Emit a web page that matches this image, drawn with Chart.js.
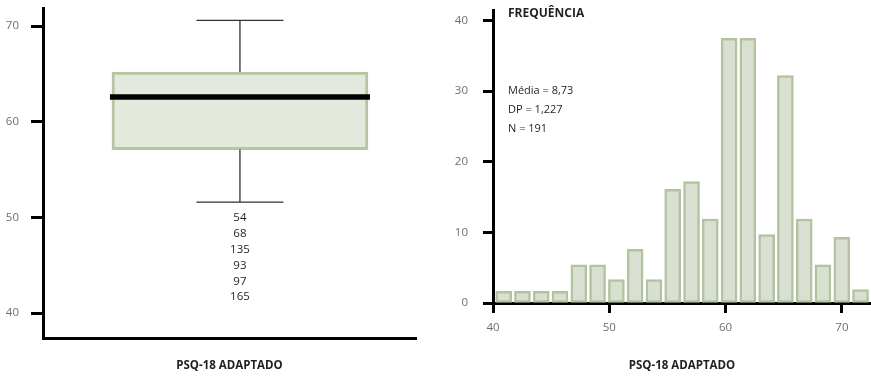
<!DOCTYPE html>
<html>
<head>
<meta charset="utf-8">
<script src="https://cdn.jsdelivr.net/npm/chart.js@4.4.1/dist/chart.umd.min.js"></script>
<style>
  html, body { margin: 0; padding: 0; background: #fff; }
  #wrap { position: relative; width: 871px; height: 376px; }
  #box { position: absolute; left: 0; top: 0; }
  #hist { position: absolute; left: 436px; top: 0; }
</style>
</head>
<body>
<div id="wrap">
  <canvas id="box" width="436" height="376"></canvas>
  <canvas id="hist" width="435" height="376"></canvas>
</div>
<script>
// ---- data ----
const axisTitle = 'PSQ-18 ADAPTADO';

// boxplot
const boxPosition = [0.528];
const boxQuartiles = [57.1, 65.2];   // Q1, Q3
const boxMedian = [62.6];
const boxWhiskers = [51.6, 70.6];    // lower, upper
const outlierCases = ['54', '68', '135', '93', '97', '165'];
const boxYTicks = [40, 50, 60, 70];

// histogram
const binCenters = [40.92, 42.53, 44.15, 45.76, 47.38, 48.99, 50.61, 52.22, 53.84, 55.45,
                    57.07, 58.68, 60.30, 61.91, 63.53, 65.14, 66.76, 68.37, 69.99, 71.60];
const frequencies = [1.65, 1.65, 1.65, 1.65, 5.4, 5.4, 3.3, 7.6, 3.3, 16.1,
                     17.2, 11.9, 37.5, 37.5, 9.7, 32.2, 11.9, 5.4, 9.3, 1.9];
const histYTicks = [0, 10, 20, 30, 40];
const histXTicks = [40, 50, 60, 70];
const freqTitle = 'FREQUÊNCIA';
const statsLines = ['Média = 8,73', 'DP = 1,227', 'N = 191'];

// ---- shared styling ----
const FONT = '"Open Sans"';
const TEXT = '#231f20';
const TICK_TEXT = '#6d6e71';

const axisBorder = { display: true, color: '#000', width: 3 };
const tickGrid = (len) => ({ drawOnChartArea: false, drawTicks: true, tickLength: len, tickWidth: 3, tickColor: '#000', offset: false });
const fixedTicks = (list) => (scale) => { scale.ticks = list.map(v => ({ value: v })); };
const noEdgePadding = (s) => { s.paddingTop = 0; s.paddingBottom = 0; s.paddingLeft = 0; s.paddingRight = 0; };

// whiskers, median and case labels for the boxplot
const boxplotExtras = {
  id: 'boxplotExtras',
  afterDatasetsDraw(chart) {
    const { ctx, scales: { x, y } } = chart;
    const bar = chart.getDatasetMeta(0).data[0];
    const cx = x.getPixelForValue(boxPosition[0]);
    const half = bar.width / 2;
    const cap = half * 0.34;
    const yLo = y.getPixelForValue(boxWhiskers[0]);
    const yHi = y.getPixelForValue(boxWhiskers[1]);
    ctx.save();
    ctx.strokeStyle = '#333';
    ctx.lineWidth = 1.3;
    ctx.beginPath();
    ctx.moveTo(cx, y.getPixelForValue(boxQuartiles[1])); ctx.lineTo(cx, yHi);
    ctx.moveTo(cx, y.getPixelForValue(boxQuartiles[0])); ctx.lineTo(cx, yLo);
    ctx.moveTo(cx - cap, yHi); ctx.lineTo(cx + cap, yHi);
    ctx.moveTo(cx - cap, yLo); ctx.lineTo(cx + cap, yLo);
    ctx.stroke();

    const my = y.getPixelForValue(boxMedian[0]);
    ctx.strokeStyle = '#000';
    ctx.lineWidth = 5.5;
    ctx.beginPath();
    ctx.moveTo(cx - half - 2, my); ctx.lineTo(cx + half + 2, my);
    ctx.stroke();

    ctx.fillStyle = TEXT;
    ctx.font = '11.5px ' + FONT;
    ctx.textAlign = 'center';
    ctx.textBaseline = 'middle';
    outlierCases.forEach((c, i) => ctx.fillText(c, cx, yLo + 16 + i * 15.8));
    ctx.restore();
  }
};

// axis heading and summary statistics for the histogram
const histText = {
  id: 'histText',
  afterDraw(chart) {
    const { ctx, chartArea } = chart;
    const left = chartArea.left + 15;
    ctx.save();
    ctx.fillStyle = TEXT;
    ctx.textAlign = 'left';
    ctx.textBaseline = 'middle';
    ctx.font = 'bold 12px ' + FONT;
    ctx.fillText(freqTitle, left, 14);
    ctx.font = '11px ' + FONT;
    statsLines.forEach((s, i) => ctx.fillText(s, left, 91 + i * 19));
    ctx.restore();
  }
};

// ---- boxplot ----
new Chart(document.getElementById('box'), {
  type: 'bar',
  data: {
    datasets: [{
      data: [{ x: boxPosition[0], y: boxQuartiles }],
      backgroundColor: '#e4e9de',
      borderColor: '#b6c5a3',
      borderWidth: 3,
      borderSkipped: false,
      barThickness: 256
    }]
  },
  options: {
    responsive: false,
    animation: false,
    layout: { padding: { top: 8, right: 20, left: 0, bottom: 0 } },
    plugins: { legend: { display: false }, tooltip: { enabled: false } },
    scales: {
      x: {
        type: 'linear', min: 0, max: 1, offset: false,
        grid: { display: false, offset: false },
        ticks: { display: false },
        border: axisBorder,
        title: { display: true, text: axisTitle, color: TEXT, font: { family: FONT, size: 11.5, weight: 'bold' }, padding: { top: 0, bottom: 3 } },
        afterFit(s) { s.height = 38; noEdgePadding(s); }
      },
      y: {
        min: 37.4, max: 71.9,
        afterBuildTicks: fixedTicks(boxYTicks),
        grid: tickGrid(12),
        border: axisBorder,
        ticks: { color: TICK_TEXT, padding: 12, font: { family: FONT, size: 11.5 } },
        afterFit(s) { s.width = 43; noEdgePadding(s); }
      }
    }
  },
  plugins: [boxplotExtras]
});

// ---- histogram ----
new Chart(document.getElementById('hist'), {
  type: 'bar',
  data: {
    datasets: [{
      data: binCenters.map((c, i) => ({ x: c, y: frequencies[i] })),
      backgroundColor: '#d9e0d1',
      borderColor: '#b3c3a0',
      borderWidth: 2.5,
      borderSkipped: false,
      barThickness: 16
    }]
  },
  options: {
    responsive: false,
    animation: false,
    layout: { padding: { top: 10, right: 0, left: 0, bottom: 0 } },
    plugins: { legend: { display: false }, tooltip: { enabled: false } },
    scales: {
      x: {
        type: 'linear', min: 40, max: 72.5, offset: false,
        afterBuildTicks: fixedTicks(histXTicks),
        grid: tickGrid(10),
        border: axisBorder,
        ticks: { color: TICK_TEXT, padding: 8, maxRotation: 0, font: { family: FONT, size: 11.5 } },
        title: { display: true, text: axisTitle, color: TEXT, font: { family: FONT, size: 11.5, weight: 'bold' }, padding: { top: 0, bottom: 3 } },
        afterFit(s) { s.height = 73; noEdgePadding(s); }
      },
      y: {
        min: 0, max: 41.5,
        afterBuildTicks: fixedTicks(histYTicks),
        grid: tickGrid(10),
        border: axisBorder,
        ticks: { color: TICK_TEXT, padding: 15, font: { family: FONT, size: 11.5 } },
        afterFit(s) { s.width = 57; noEdgePadding(s); }
      }
    }
  },
  plugins: [histText]
});
</script>
</body>
</html>
